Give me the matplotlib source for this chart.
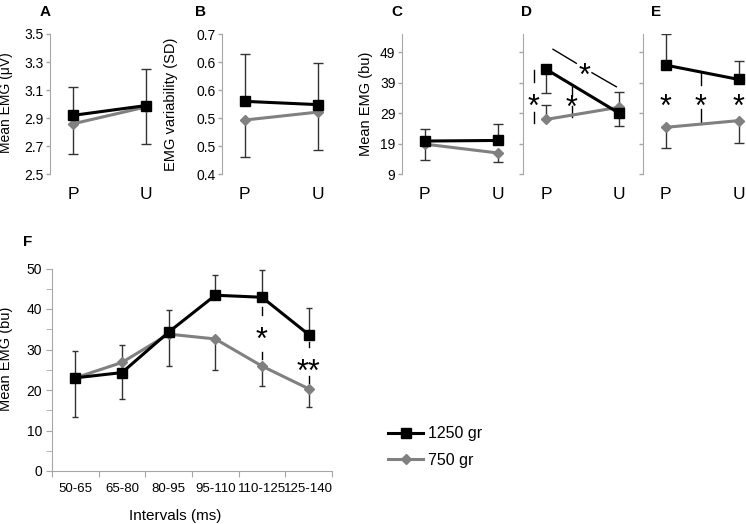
import numpy as np
import matplotlib
matplotlib.use('Agg')
import matplotlib.pyplot as plt
from matplotlib.lines import Line2D
from matplotlib.ticker import FormatStrFormatter

plt.rcParams['font.family'] = ['Liberation Sans', 'DejaVu Sans']

### Data
pu = ['P', 'U']

# A - mean EMG (uV)
a_heavy = [2.92, 2.99]
a_light = [2.86, 2.98]
a_heavy_top = [3.125, 3.25]     # upper error bar end, 1250 gr
a_light_bot = [2.645, 2.715]    # lower error bar end, 750 gr

# B - EMG variability (SD)
b_heavy = [0.556, 0.549]
b_light = [0.516, 0.533]
b_heavy_top = [0.657, 0.638]
b_light_bot = [0.436, 0.452]

# C - mean EMG (bu)
c_heavy = [19.9, 20.1]
c_light = [18.9, 16.0]
c_heavy_top = [23.9, 25.5]
c_light_bot = [13.7, 12.9]

# D - here the bars point the other way
d_heavy = [43.4, 29.0]
d_light = [27.0, 31.0]
d_heavy_bot = [35.6, 24.8]
d_light_top = [31.7, 36.1]

# E
e_heavy = [44.8, 40.1]
e_light = [24.4, 26.6]
e_heavy_top = [55.0, 46.2]
e_light_bot = [17.6, 19.2]

# F - time course
intervals = ['50-65', '65-80', '80-95', '95-110', '110-125', '125-140']
f_heavy = [23.0, 24.3, 34.3, 43.4, 42.9, 33.7]
f_light = [23.0, 26.8, 33.8, 32.6, 25.9, 20.3]
f_heavy_top = [29.7, 31.1, 39.8, 48.3, 49.7, 40.3]
f_light_bot = [13.4, 17.8, 26.0, 25.0, 20.9, 15.9]

# significance marks: (line segment, line segment, star x, star y, text)
d_sig = [([(-0.175, -0.175), (43.2, 39.4)], [(-0.175, -0.175), (29.5, 25.8)], -0.175, 33.9, '*'),
         ([(0.352, 0.352), (37.7, 34.7)], [(0.352, 0.352), (31.4, 27.7)], 0.352, 33.4, '*'),
         ([(0.092, 0.411), (50.0, 45.4)], [(0.626, 0.959), (42.3, 37.7)], 0.525, 44.0, '*')]
e_sig = [([(0.48, 0.48), (42.1, 38.3)], [(0.48, 0.48), (30.3, 25.5)], 0.48, 33.7, '*'),
         ([], [], 0.0, 33.7, '*'),
         ([], [], 1.0, 33.7, '*')]
f_sig = [([(4, 4), (40.6, 38.5)], [(4, 4), (29.5, 27.6)], 4, 34.4, '*'),
         ([(5, 5), (31.9, 30.6)], [(5, 5), (23.4, 21.7)], 5, 26.6, '**')]

### Style
W, H = 746, 524
BLACK = 'black'
GREY = '#808080'
SPINE = '#a6a6a6'
EBAR = '#333333'

fig = plt.figure(figsize=(W / 100, H / 100), dpi=100)


def pair(ax, x, heavy, light):
    ax.plot(x, light, color=GREY, lw=2.2, marker='D', ms=5, zorder=3)
    ax.plot(x, heavy, color=BLACK, lw=2.2, marker='s', ms=7, zorder=4)


def bars(ax, x, y, lo, hi, cap):
    y = np.asarray(y, float)
    err = [y - np.asarray(lo, float), np.asarray(hi, float) - y]
    ax.errorbar(x, y, yerr=err, fmt='none', ecolor=EBAR, elinewidth=1,
                capsize=cap, capthick=1, zorder=2)


def stars(ax, sig, fs=22):
    for seg1, seg2, xs, ys, txt in sig:
        for seg in (seg1, seg2):
            if seg:
                ax.plot(seg[0], seg[1], color=BLACK, lw=1, zorder=1)
        ax.annotate(txt, (xs, ys), xytext=(0, -0.57 * fs), textcoords='offset points',
                    ha='center', va='baseline', fontsize=fs)


def top_axes(left_px, ylim, yticks, ticklabels=True):
    # P sits 23 px right of the spine, U 73 px further
    ax = fig.add_axes([left_px / W, (H - 174.3) / H, 146 / W, 140.3 / H])
    ax.set_xlim(-23 / 73, 2 - 23 / 73)
    ax.set_ylim(*ylim)
    for s in ['top', 'right', 'bottom']:
        ax.spines[s].set_visible(False)
    ax.spines['left'].set_color(SPINE)
    ax.set_xticks([0, 1])
    ax.set_xticklabels(pu, fontsize=12.5)
    ax.tick_params(axis='x', length=0, pad=9)
    ax.set_yticks(yticks)
    ax.tick_params(axis='y', length=3, color=SPINE, width=1, labelsize=10, pad=1.5)
    if not ticklabels:
        ax.set_yticklabels([])
    ax.patch.set_visible(False)
    return ax


x2 = np.arange(2)

# A
ax = top_axes(50, (2.5, 3.5), np.arange(2.5, 3.51, 0.2))
ax.yaxis.set_major_formatter(FormatStrFormatter('%.1f'))
bars(ax, x2, a_heavy, a_heavy, a_heavy_top, 3.5)
bars(ax, x2, a_light, a_light_bot, a_light, 3.5)
pair(ax, x2, a_heavy, a_light)
ax.set_ylabel('Mean EMG (\u03bcV)', fontsize=10)
ax.yaxis.set_label_coords(-0.255, 0.51)

# B
ax = top_axes(221.7, (0.4, 0.7), np.linspace(0.4, 0.7, 6))
ax.yaxis.set_major_formatter(FormatStrFormatter('%.1f'))
bars(ax, x2, b_heavy, b_heavy, b_heavy_top, 3.5)
bars(ax, x2, b_light, b_light_bot, b_light, 3.5)
pair(ax, x2, b_heavy, b_light)
ax.set_ylabel('EMG variability (SD)', fontsize=10.5)
ax.yaxis.set_label_coords(-0.30, 0.5)

# C
ax = top_axes(401.7, (9, 55), np.arange(9, 50, 10))
bars(ax, x2, c_heavy, c_heavy, c_heavy_top, 3.5)
bars(ax, x2, c_light, c_light_bot, c_light, 3.5)
pair(ax, x2, c_heavy, c_light)
ax.set_ylabel('Mean EMG (bu)', fontsize=10.5)
ax.yaxis.set_label_coords(-0.197, 0.5)

# D
ax = top_axes(523.3, (9, 55), np.arange(9, 50, 10), ticklabels=False)
bars(ax, x2, d_heavy, d_heavy_bot, d_heavy, 3.5)
bars(ax, x2, d_light, d_light, d_light_top, 3.5)
pair(ax, x2, d_heavy, d_light)
stars(ax, d_sig)

# E
ax = top_axes(642.7, (9, 55), np.arange(9, 50, 10), ticklabels=False)
bars(ax, x2, e_heavy, e_heavy, e_heavy_top, 3.5)
bars(ax, x2, e_light, e_light_bot, e_light, 3.5)
pair(ax, x2, e_heavy, e_light)
stars(ax, e_sig)

# F
axf = fig.add_axes([52 / W, (H - 471) / H, 280 / W, 202.5 / H])
xf = np.arange(len(intervals))
axf.set_xlim(-0.5, 5.5)
axf.set_ylim(0, 50)
for s in ['top', 'right']:
    axf.spines[s].set_visible(False)
axf.spines['left'].set_color(SPINE)
axf.spines['bottom'].set_color(SPINE)
axf.set_xticks(np.arange(-0.5, 6, 1))
axf.set_xticklabels([])
axf.set_xticks(xf, minor=True)
axf.set_xticklabels(intervals, minor=True)
axf.tick_params(axis='x', which='major', length=4, color=SPINE)
axf.tick_params(axis='x', which='minor', length=0, pad=8.5, labelsize=9.5)
axf.set_yticks(np.arange(0, 51, 10))
axf.set_yticks(np.arange(5, 50, 10), minor=True)
axf.tick_params(axis='y', which='both', length=4, color=SPINE, labelsize=10, pad=3.2)
axf.patch.set_visible(False)
bars(axf, xf, f_heavy, f_heavy, f_heavy_top, 2.5)
bars(axf, xf, f_light, f_light_bot, f_light, 2.5)
pair(axf, xf, f_heavy, f_light)
stars(axf, f_sig)
axf.set_ylabel('Mean EMG (bu)', fontsize=10.5)
axf.yaxis.set_label_coords(-0.141, 0.553)
axf.set_xlabel('Intervals (ms)', fontsize=11)
axf.xaxis.set_label_coords(0.44, -0.19)

# panel letters
for lab, px, py in [('A', 45, 12), ('B', 200, 12), ('C', 397, 12), ('D', 527, 12),
                    ('E', 656, 12), ('F', 28, 242)]:
    fig.text(px / W, 1 - py / H, lab, fontsize=11, fontweight='bold', ha='center', va='center')

# legend
handles = [Line2D([], [], color=BLACK, lw=2.2, marker='s', ms=7),
           Line2D([], [], color=GREY, lw=2.2, marker='D', ms=5)]
fig.legend(handles, ['1250 gr', '750 gr'], loc='center left',
           bbox_to_anchor=(388 / W, 1 - 447 / H), frameon=False, fontsize=11.5,
           handlelength=2.2, handletextpad=0.3, labelspacing=0.7,
           borderpad=0, borderaxespad=0)

fig.savefig('out.png', dpi=100)
